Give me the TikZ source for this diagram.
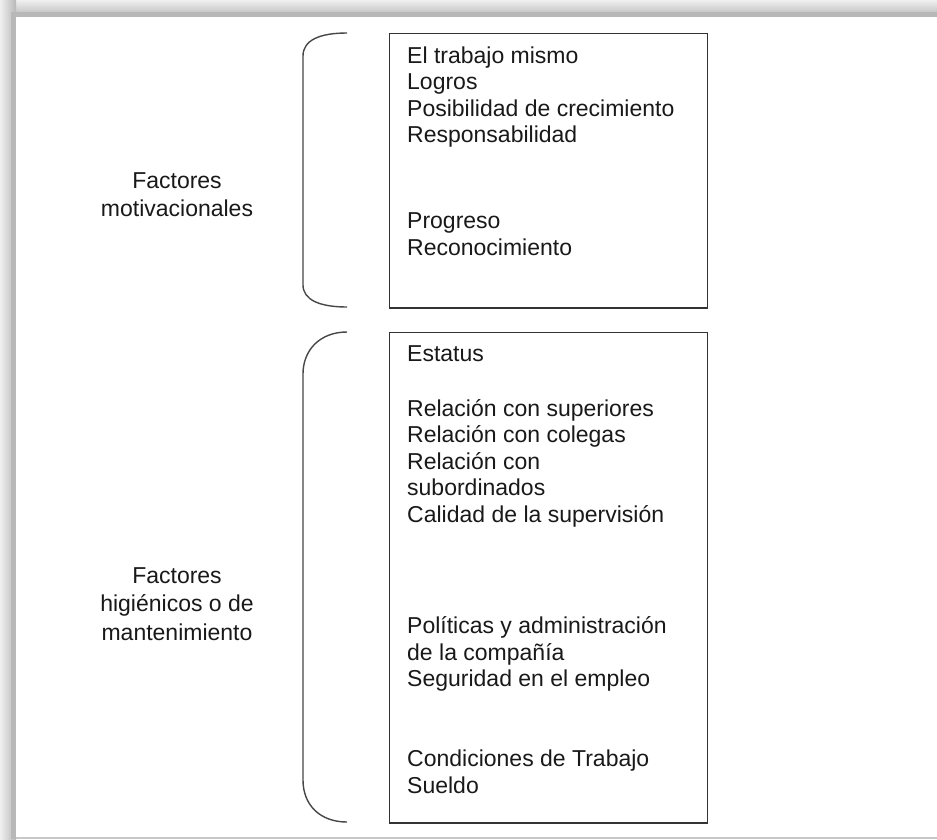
\documentclass[tikz,border=0pt]{standalone}
\usepackage{fontspec}
\setmainfont{Liberation Sans}
\begin{document}
\begin{tikzpicture}[x=1pt,y=-1pt,
  txt/.style={anchor=base west,inner sep=0pt,text=black!90,font=\fontsize{23}{26}\selectfont},
  lbl/.style={anchor=base,inner sep=0pt,text=black!90,font=\fontsize{23}{26}\selectfont},
  boxline/.style={draw=black!80,line width=1.5pt},
  braceline/.style={draw=black!72,line width=1.4pt}]
\useasboundingbox (0,0) rectangle (937,839);
\fill[white] (0,0) rectangle (937,839);
% shadow frame
\shade[top color=black!6,bottom color=black!28] (0,0) rectangle (937,17);
\shade[left color=black!6,right color=black!28] (0,0) rectangle (16,839);
\fill[black!28] (11,12) rectangle (937,17);
\fill[black!28] (11,12) rectangle (16,839);
\fill[white] (16,17) rectangle (937,837);
\fill[black!22] (16,837) rectangle (937,839);
% boxes
\node[boxline,minimum width=318pt,minimum height=274.5pt,inner sep=0pt,anchor=north west] (box1) at (388.5,32.5) {};
\node[boxline,minimum width=318pt,minimum height=490.5pt,inner sep=0pt,anchor=north west] (box2) at (388.5,331.5) {};
% braces
\coordinate (b1t) at (347,33);
\coordinate (b1b) at (347,307);
\draw[braceline] (b1t) .. controls (320,33) and (303,40) .. (303,56) -- (303,285) .. controls (303,300) and (320,307) .. (b1b);
\coordinate (b2t) at (347,332);
\coordinate (b2b) at (347,822);
\draw[braceline] (b2t) .. controls (320,332) and (303,350) .. (303,374) -- (303,780) .. controls (303,805) and (320,822) .. (b2b);
% labels
\node[lbl] (l1a) at (177,188.3) {Factores};
\node[lbl] (l1b) at (177,216.7) {motivacionales};
\node[lbl] (l2a) at (177,583.3) {Factores};
\node[lbl] (l2b) at (177,611.7) {higiénicos o de};
\node[lbl] (l2c) at (177,640) {mantenimiento};
% box 1 text
\node[txt] (a1) at (407,63.3) {El trabajo mismo};
\node[txt] (a2) at (407,89.5) {Logros};
\node[txt] (a3) at (407,116) {Posibilidad de crecimiento};
\node[txt] (a4) at (407,142.3) {Responsabilidad};
\node[txt] (a5) at (407,228.3) {Progreso};
\node[txt] (a6) at (407,255) {Reconocimiento};
% box 2 text
\node[txt] (c1) at (407,361.7) {Estatus};
\node[txt] (c2) at (407,416.7) {Relación con superiores};
\node[txt] (c3) at (407,442.5) {Relación con colegas};
\node[txt] (c4) at (407,469) {Relación con};
\node[txt] (c5) at (407,495.5) {subordinados};
\node[txt] (c6) at (407,522) {Calidad de la supervisión};
\node[txt] (c7) at (407,633.3) {Políticas y administración};
\node[txt] (c8) at (407,660) {de la compañía};
\node[txt] (c9) at (407,686.5) {Seguridad en el empleo};
\node[txt] (c10) at (407,766.7) {Condiciones de Trabajo};
\node[txt] (c11) at (407,793.3) {Sueldo};
\end{tikzpicture}
\end{document}
